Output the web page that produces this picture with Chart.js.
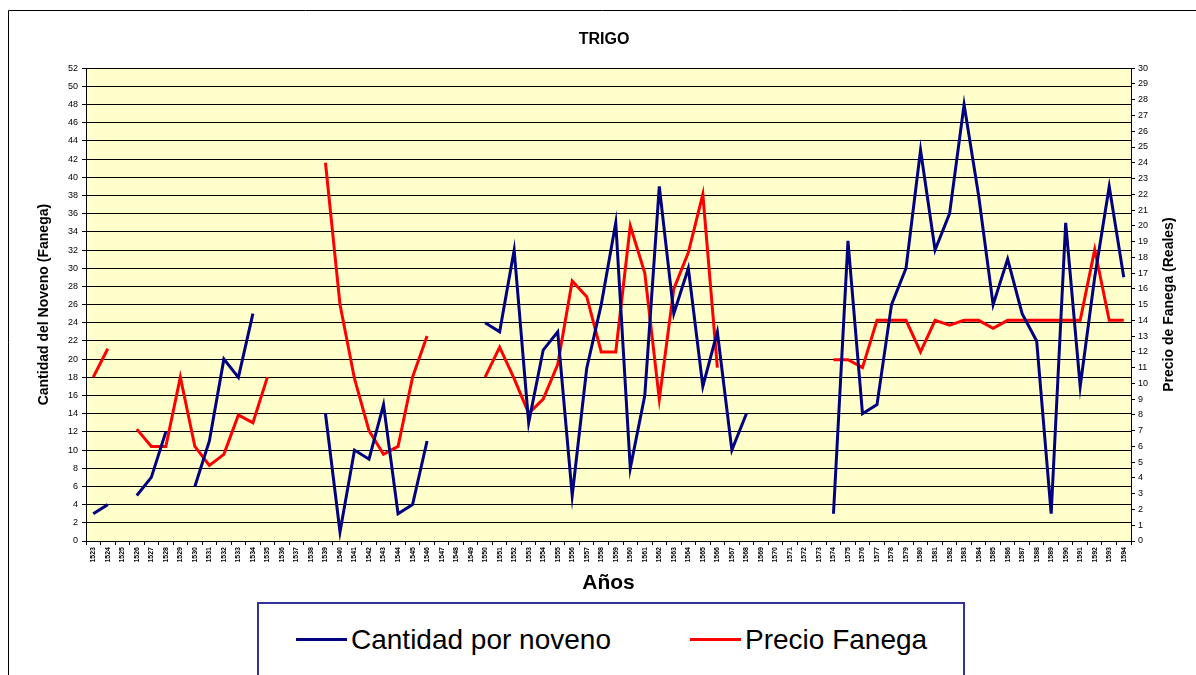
<!DOCTYPE html>
<html>
<head>
<meta charset="utf-8">
<script src="https://cdn.jsdelivr.net/npm/chart.js@4.4.1/dist/chart.umd.min.js"></script>
<style>
  body { margin: 0; background: #fff; }
  #wrap { position: relative; width: 1196px; height: 675px; overflow: hidden; }
  #legend {
    position: absolute; left: 257px; top: 602px; width: 708px; height: 100px;
    border: 2px solid #33339a; background: #fff; box-sizing: border-box;
    font-family: "Liberation Sans", Arial, sans-serif; font-size: 28px; color: #000;
  }
  .item { position: absolute; top: 20px; white-space: nowrap; }
  .item span.ln { display: inline-block; width: 51px; height: 3px; vertical-align: middle; margin-right: 4px; position: relative; top: -2px; }
</style>
</head>
<body>
<div id="wrap">
  <canvas id="mycanvas" width="1196" height="675"></canvas>
  <div id="legend">
    <div class="item" style="left:37px"><span class="ln" style="background:#000080"></span>Cantidad por noveno</div>
    <div class="item" style="left:431px"><span class="ln" style="background:#ff0000"></span>Precio Fanega</div>
  </div>
</div>
<script>
// years on the x axis
var years = [];
for (var y = 1523; y <= 1594; y++) years.push(String(y));

// Cantidad por noveno (fanegas), left axis
var cantidad = [3, 4, null, 5, 7, 12, null, 6, 11, 20, 18, 25,
  null, null, null, null, 14, 1, 10, 9, 15, 3, 4, 11,
  null, null, null, 24, 23, 32, 13, 21, 23, 5, 19, 26,
  35, 8, 16, 39, 25, 30, 17, 23, 10, 14, null, null,
  null, null, null, 3, 33, 14, 15, 26, 30, 43, 32, 36,
  48, 38, 26, 31, 25, 22, 3, 35, 17, 29, 39, 29];

// Precio fanega (reales), right axis
var precio = [10.4, 12.2, null, 7.1, 6, 6, 10.4, 6, 4.8, 5.5, 8, 7.5,
  10.4, null, null, null, 24, 15, 10.3, 7, 5.5, 6, 10.4, 13,
  null, null, null, 10.4, 12.3, 10.3, 8.1, 9, 11.2, 16.5, 15.5, 12,
  12, 20, 17, 9, 16, 18.3, 22, 11, null, null, null, null,
  null, null, null, 11.5, 11.5, 11, 14, 14, 14, 12, 14, 13.7,
  14, 14, 13.5, 14, 14, 14, 14, 14, 14, 18.5, 14, 14];

var fam = '"Liberation Sans", Arial, sans-serif';

var backdrop = {
  id: 'backdrop',
  beforeDraw: function(chart) {
    var c = chart.ctx, a = chart.chartArea;
    c.save();
    c.fillStyle = '#ffffcc';
    c.fillRect(a.left, a.top, a.right - a.left, a.bottom - a.top);
    c.strokeStyle = '#000';
    c.lineWidth = 1;
    c.beginPath();
    c.moveTo(8.5, 675); c.lineTo(8.5, 10.5); c.lineTo(1196, 10.5);
    c.stroke();
    c.restore();
  },
  afterDraw: function(chart) {
    var c = chart.ctx, a = chart.chartArea;
    c.save();
    c.translate(1169, (a.top + a.bottom) / 2);
    c.rotate(-Math.PI / 2);
    c.font = 'bold 14px ' + fam;
    c.fillStyle = '#000';
    c.textAlign = 'center';
    c.textBaseline = 'middle';
    c.fillText('Precio de Fanega (Reales)', 0, 0);
    c.restore();
  }
};

var ctx = document.getElementById('mycanvas');
var chart = new Chart(ctx, {
  type: 'line',
  data: {
    labels: years,
    datasets: [
      {
        label: 'Cantidad por noveno',
        data: cantidad,
        borderColor: '#000080',
        backgroundColor: '#000080',
        borderWidth: 3,
        pointRadius: 0,
        tension: 0,
        spanGaps: false,
        yAxisID: 'y'
      },
      {
        label: 'Precio Fanega',
        data: precio,
        borderColor: '#ff0000',
        backgroundColor: '#ff0000',
        borderWidth: 3,
        pointRadius: 0,
        tension: 0,
        spanGaps: false,
        yAxisID: 'y1'
      }
    ]
  },
  options: {
    responsive: false,
    animation: false,
    layout: { padding: { left: 28, right: 16, top: 0, bottom: 79 } },
    plugins: {
      legend: { display: false },
      tooltip: { enabled: false },
      title: {
        display: true,
        text: 'TRIGO',
        color: '#000',
        font: { family: fam, size: 16, weight: 'bold' },
        padding: { top: 30, bottom: 19 }
      }
    },
    scales: {
      x: {
        offset: true,
        grid: { display: true, drawOnChartArea: false, offset: true, color: '#000', tickLength: 4 },
        border: { color: '#000' },
        ticks: {
          autoSkip: false, minRotation: 90, maxRotation: 90,
          color: '#000', padding: 2,
          font: { family: fam, size: 7, weight: 'bold' }
        },
        title: {
          display: true, text: 'Años', color: '#000',
          font: { family: fam, size: 21, weight: 'bold' },
          padding: 0
        },
        afterFit: function(s) { s.height = 55; }
      },
      y: {
        position: 'left',
        min: 0, max: 52,
        grid: { color: '#000', tickLength: 4 },
        border: { color: '#000' },
        ticks: { stepSize: 2, color: '#000', padding: 4, font: { family: fam, size: 9 } },
        title: {
          display: true, text: 'Cantidad del Noveno (Fanega)', color: '#000',
          font: { family: fam, size: 14, weight: 'bold' },
          padding: { top: 8, bottom: 0 }
        },
        afterFit: function(s) { s.width = 58; }
      },
      y1: {
        position: 'right',
        min: 0, max: 30,
        grid: { drawOnChartArea: false, color: '#000', tickLength: 4 },
        border: { color: '#000' },
        ticks: { stepSize: 1, color: '#000', padding: 3, font: { family: fam, size: 9 } },
        afterFit: function(s) { s.width = 49; }
      }
    }
  },
  plugins: [backdrop]
});
</script>
</body>
</html>
